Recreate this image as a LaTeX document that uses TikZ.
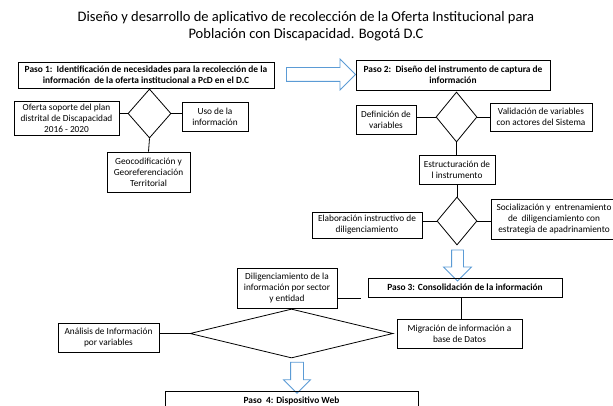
\documentclass[tikz,border=0pt]{standalone}
\usepackage{fontspec}
\setmainfont{Carlito}
\usepackage{tikz}
\usetikzlibrary{shapes.geometric}
\usetikzlibrary{shapes.arrows}
\usetikzlibrary{positioning}
\definecolor{arrowblue}{RGB}{91,155,213}
\tikzstyle{box} = [rectangle, draw, line width = 0.8, inner sep = 0.5, align = center, font = \fontsize{9.3}{11}\selectfont]
\tikzstyle{paso box} = [box, font = \bfseries\fontsize{9.4}{11}\selectfont]
\tikzstyle{decision} = [diamond, draw, line width = 0.8, inner sep = 0]
\tikzstyle{block arrow} = [single arrow, draw = arrowblue, line width = 0.8, fill = white, inner xsep = 0]
\tikzstyle{edge} = [line width = 0.8]

\begin{document}
\begin{tikzpicture}[x = 1pt, y = -1pt]
    \useasboundingbox (0, 0) rectangle (613, 406);

    \node (title) at (306, 26) [align = center, font = \fontsize{14.5}{17}\selectfont]
        {Diseño y desarrollo de aplicativo de recolección de la Oferta Institucional para\\
         Población con Discapacidad. Bogotá D.C};

    % paso 1
    \node (paso1) at (146, 75) [paso box, minimum width = 256, minimum height = 26]
        {Paso 1:\ \ Identificación de necesidades para la recolección de la\\
         información\ \ de la oferta institucional a PcD en el D.C};
    \node (d1) at (149.5, 113.5) [decision, minimum width = 43, minimum height = 49] {};
    \node (oferta) at (66.5, 118) [box, minimum width = 105, minimum height = 34]
        {Oferta soporte del plan\\ distrital de Discapacidad\\ 2016 - 2020};
    \node (uso) at (215, 116.5) [box, minimum width = 66, minimum height = 29]
        {Uso de la\\ información};
    \node (geo) at (148.5, 172) [box, minimum width = 83, minimum height = 40]
        {Geocodificación y\\ Georeferenciación\\ Territorial};
    \draw [edge] (d1.west) -- (d1.west -| oferta.east);
    \draw [edge] (d1.east) -- (d1.east -| uso.west);
    \draw [edge] (d1.south) -- (geo.north);

    \node (a12) at (317.5, 74.5) [block arrow, inner ysep = 6.5, minimum height = 69,
        single arrow head extend = 8.5] {};

    % paso 2
    \node (paso2) at (453, 75) [paso box, minimum width = 194, minimum height = 30]
        {Paso 2:\ \ Diseño del instrumento de captura de\\ información};
    \node (d2) at (456.5, 117) [decision, minimum width = 41, minimum height = 50] {};
    \node (defin) at (386, 119.5) [box, minimum width = 60, minimum height = 29]
        {Definición de\\ variables};
    \node (valid) at (541, 117) [box, minimum width = 102, minimum height = 28]
        {Validación de variables\\ con actores del Sistema};
    \node (estr) at (457, 170) [box, minimum width = 76, minimum height = 29]
        {Estructuración de\\ l instrumento};
    \draw [edge] (d2.west) -- (d2.west -| defin.east);
    \draw [edge] (d2.east) -- (d2.east -| valid.west);
    \draw [edge] (d2.south) -- (d2.south |- estr.north);

    \node (d3) at (457, 221) [decision, minimum width = 40, minimum height = 48] {};
    \node (elab) at (367, 225) [box, minimum width = 110, minimum height = 26]
        {Elaboración instructivo de\\ diligenciamiento};
    \node (soc) at (554, 219) [box, minimum width = 126, minimum height = 40]
        {Socialización y\ \ entrenamiento\\ de\ \ diligenciamiento con\\ estrategia de apadrinamiento};
    \draw [edge] (estr.south -| d3.north) -- (d3.north);
    \draw [edge] (d3.west) -- (d3.west -| elab.east);
    \draw [edge] (d3.east) -- (d3.east -| soc.west);

    \node (a23) at (457.5, 262.5) [block arrow, rotate = -90, inner ysep = 5.5,
        minimum height = 31, single arrow head extend = 8] {};

    % paso 3
    \node (paso3) at (465, 287.5) [paso box, minimum width = 194, minimum height = 19]
        {Paso 3: Consolidación de la información};
    \node (migr) at (459.5, 333.5) [box, minimum width = 125, minimum height = 29]
        {Migración de información a\\ base de Datos};
    \node (dilig) at (287, 288) [box, minimum width = 100, minimum height = 40]
        {Diligenciamiento de la\\ información por sector\\ y entidad};
    \node (d4) at (291.5, 333.5) [decision, minimum width = 203, minimum height = 49] {};
    \node (anal) at (108.5, 337.5) [box, minimum width = 101, minimum height = 29]
        {Análisis de Información\\ por variables};
    \coordinate (dend) at (361, 298);
    \coordinate (p3low) at (461, 297);
    \draw [edge] (p3low) -- (p3low |- migr.north);
    \draw [edge] (dilig.east |- dend) -- (dend);
    \draw [edge] (d4.west) -- (d4.west -| anal.east);

    \node (a34) at (297, 374.5) [block arrow, rotate = -90, inner ysep = 6,
        minimum height = 31, single arrow head extend = 7] {};

    % paso 4
    \node (paso4) at (291.5, 401) [paso box, minimum width = 253, minimum height = 20]
        {Paso\ \ 4: Dispositivo Web};
\end{tikzpicture}
\end{document}
